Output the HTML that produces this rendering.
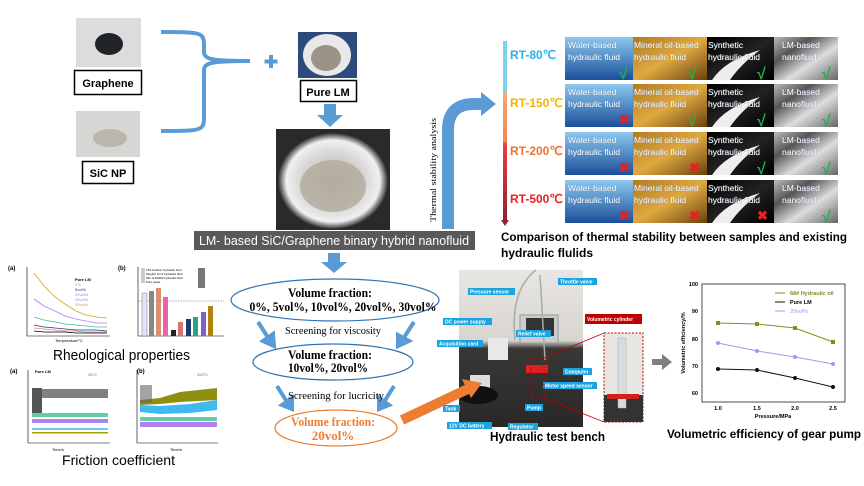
<!DOCTYPE html>
<html><head><meta charset="utf-8"><style>
html,body{margin:0;padding:0;background:#fff}
svg{display:block}
text{font-family:"Liberation Sans",sans-serif}
.t{font-family:"Liberation Serif",serif}
.lb{fill:#1aa3e0}
.lt{fill:#fff;font-size:5px;font-weight:bold}
</style></head><body>
<svg width="864" height="486" viewBox="0 0 864 486" xmlns="http://www.w3.org/2000/svg">
<defs>
<linearGradient id="bar" x1="0" y1="0" x2="0" y2="1">
<stop offset="0" stop-color="#7fd0ea"/><stop offset="0.28" stop-color="#7fd0ea"/>
<stop offset="0.29" stop-color="#f4a870"/><stop offset="0.56" stop-color="#f08850"/>
<stop offset="0.57" stop-color="#e84040"/><stop offset="1" stop-color="#902030"/></linearGradient>
<linearGradient id="water" x1="0" y1="0" x2="0" y2="1"><stop offset="0" stop-color="#8cc8f0"/><stop offset="1" stop-color="#1a4f9a"/></linearGradient>
<linearGradient id="oil" x1="0" y1="0" x2="1" y2="1"><stop offset="0" stop-color="#b07a20"/><stop offset="0.5" stop-color="#e0a840"/><stop offset="1" stop-color="#6a4210"/></linearGradient>
<linearGradient id="syn" x1="0" y1="0" x2="1" y2="1"><stop offset="0" stop-color="#000"/><stop offset="0.5" stop-color="#222"/><stop offset="1" stop-color="#000"/></linearGradient>
<linearGradient id="lm" x1="0" y1="0" x2="1" y2="1"><stop offset="0" stop-color="#bbb"/><stop offset="0.3" stop-color="#555"/><stop offset="0.6" stop-color="#ddd"/><stop offset="1" stop-color="#666"/></linearGradient>
<radialGradient id="beak" cx="0.5" cy="0.5" r="0.5"><stop offset="0" stop-color="#b8b0a0"/><stop offset="0.6" stop-color="#d8d8d8"/><stop offset="0.85" stop-color="#f0f0f0"/><stop offset="1" stop-color="#303030"/></radialGradient>
<linearGradient id="bench" x1="0" y1="0" x2="0" y2="1"><stop offset="0" stop-color="#e8e6e2"/><stop offset="0.45" stop-color="#d8d5d0"/><stop offset="0.5" stop-color="#3a3836"/><stop offset="1" stop-color="#2a2826"/></linearGradient>
</defs>

<rect x="76" y="18" width="65" height="49" fill="#dcdcdc"/>
<ellipse cx="109" cy="44" rx="14" ry="11" fill="#202428"/>
<rect x="74.5" y="70.5" width="67" height="24" fill="#fff" stroke="#000" stroke-width="1.5"/>
<text x="108" y="87" font-size="11" font-weight="bold" text-anchor="middle">Graphene</text>
<rect x="76" y="111" width="64" height="46" fill="#d6d6d4"/>
<ellipse cx="110" cy="138" rx="17" ry="9" fill="#bbb6ac"/>
<rect x="82.5" y="161.5" width="51" height="22" fill="#fff" stroke="#000" stroke-width="1.5"/>
<text x="108" y="177" font-size="11" font-weight="bold" text-anchor="middle">SiC NP</text>
<path d="M161 32 C200 32 204 32 204 45 L204 52 C204 60 215 61 250 61 M161 131 C200 131 204 131 204 118 L204 70 C204 62 215 61 250 61" fill="none" stroke="#5b9bd5" stroke-width="4"/>
<path d="M271 55 V68 M264.5 61.5 H277.5" stroke="#5b9bd5" stroke-width="4"/>
<rect x="298" y="32" width="59" height="46" fill="#2c4a7a"/>
<ellipse cx="327" cy="55" rx="24" ry="21" fill="#e8e8e8"/>
<ellipse cx="326" cy="58" rx="15" ry="13" fill="#9a9488"/>
<rect x="300.5" y="80.5" width="56" height="21" fill="#fff" stroke="#000" stroke-width="1.5"/>
<text x="328" y="96" font-size="11" font-weight="bold" text-anchor="middle">Pure LM</text>
<path d="M324 104 H336 V115 H343 L330 127 L317 115 H324 Z" fill="#5b9bd5"/>
<rect x="276" y="129" width="114" height="101" fill="#2a2a2a"/>
<ellipse cx="333" cy="181" rx="55" ry="48" fill="url(#beak)"/>
<ellipse cx="333" cy="186" rx="33" ry="26" fill="#b2aa9c" opacity="0.8"/>
<rect x="194" y="231" width="281" height="19" fill="#595959"/>
<text x="334" y="245" font-size="12.5" fill="#fff" text-anchor="middle" textLength="270" lengthAdjust="spacingAndGlyphs">LM- based SiC/Graphene binary hybrid nanofluid</text>
<path d="M448 229 V130 Q448 104 474 104 H482" fill="none" stroke="#5b9bd5" stroke-width="12"/>
<path d="M481 92 L496 104 L481 116 Z" fill="#5b9bd5"/>
<text class="t" x="0" y="0" font-size="8.5" transform="translate(436 222) rotate(-90)" textLength="104" lengthAdjust="spacingAndGlyphs">Thermal stability analysis</text>

<rect x="503" y="41" width="4" height="180" fill="url(#bar)"/>
<path d="M501 220 L509 220 L505 226 Z" fill="#902030"/>
<text x="510" y="59" font-size="12" font-weight="bold" fill="#2ab0e8">RT-80℃</text>
<text x="510" y="107" font-size="12" font-weight="bold" fill="#f5b400">RT-150℃</text>
<text x="510" y="155" font-size="12" font-weight="bold" fill="#f07030">RT-200℃</text>
<text x="510" y="203" font-size="12" font-weight="bold" fill="#e8202a">RT-500℃</text>
<g id="r1">
<rect x="565" y="37" width="68" height="43" fill="url(#water)"/>
<rect x="633" y="37" width="74" height="43" fill="url(#oil)"/>
<rect x="707" y="37" width="67" height="43" fill="url(#syn)"/>
<path d="M712 80 Q725 60 760 50 Q740 65 730 80 Z" fill="#eee"/>
<rect x="774" y="37" width="64" height="43" fill="url(#lm)"/>
</g>
<use href="#r1" y="47"/><use href="#r1" y="95"/><use href="#r1" y="143"/>
<g font-size="8.5" fill="#fff" style="paint-order:stroke" stroke="#6080a0" stroke-width="0.3">
<text x="568" y="48">Water-based</text><text x="568" y="60">hydraulic fluid</text>
<text x="634" y="48">Mineral oil-based</text><text x="634" y="60">hydraulic fluid</text>
<text x="708" y="48">Synthetic</text><text x="708" y="60">hydraulic fluid</text>
<text x="782" y="48">LM-based</text><text x="782" y="60">nanofluids</text>
<text x="568" y="95">Water-based</text><text x="568" y="107">hydraulic fluid</text>
<text x="634" y="95">Mineral oil-based</text><text x="634" y="107">hydraulic fluid</text>
<text x="708" y="95">Synthetic</text><text x="708" y="107">hydraulic fluid</text>
<text x="782" y="95">LM-based</text><text x="782" y="107">nanofluids</text>
<text x="568" y="143">Water-based</text><text x="568" y="155">hydraulic fluid</text>
<text x="634" y="143">Mineral oil-based</text><text x="634" y="155">hydraulic fluid</text>
<text x="708" y="143">Synthetic</text><text x="708" y="155">hydraulic fluid</text>
<text x="782" y="143">LM-based</text><text x="782" y="155">nanofluids</text>
<text x="568" y="191">Water-based</text><text x="568" y="203">hydraulic fluid</text>
<text x="634" y="191">Mineral oil-based</text><text x="634" y="203">hydraulic fluid</text>
<text x="708" y="191">Synthetic</text><text x="708" y="203">hydraulic fluid</text>
<text x="782" y="191">LM-based</text><text x="782" y="203">nanofluids</text>
</g>
<g font-size="16" font-weight="bold" fill="#22b04a">
<text x="619" y="79">√</text><text x="688" y="79">√</text><text x="757" y="79">√</text><text x="822" y="79">√</text>
<text x="688" y="126">√</text><text x="757" y="126">√</text><text x="822" y="126">√</text>
<text x="757" y="174">√</text><text x="822" y="174">√</text>
<text x="822" y="222">√</text>
</g>
<g font-size="13" font-weight="bold" fill="#ee1c24">
<text x="619" y="124">✖</text>
<text x="619" y="172">✖</text><text x="689" y="172">✖</text>
<text x="619" y="220">✖</text><text x="689" y="220">✖</text><text x="757" y="220">✖</text>
</g>
<text x="501" y="241" font-size="12" font-weight="bold" textLength="346" lengthAdjust="spacingAndGlyphs">Comparison of thermal stability between samples and existing</text>
<text x="501" y="257" font-size="12" font-weight="bold">hydraulic flulids</text>

<g class="t" font-size="4">
<text x="8" y="270" font-size="6" font-weight="bold">(a)</text>
<path d="M27 267 V336 H110" fill="none" stroke="#000" stroke-width="0.6"/>
<polyline points="34,273 44,286 55,297 65,304 76,311 86,315 96,317 107,318" fill="none" stroke="#d4a020" stroke-width="0.8"/>
<polyline points="34,299 44,306 55,311 65,316 76,319 86,321 96,323 107,323" fill="none" stroke="#b080f0" stroke-width="0.8"/>
<polyline points="34,317 44,320 55,322 65,324 76,325 86,326 96,327 107,327" fill="none" stroke="#40c0a0" stroke-width="0.8"/>
<polyline points="34,325 44,327 55,328 65,329 76,330 86,330 96,330 107,331" fill="none" stroke="#1a3a80" stroke-width="0.8"/>
<polyline points="34,328 44,329 55,330 65,331 76,331 86,332 96,332 107,332" fill="none" stroke="#f08080" stroke-width="0.8"/>
<polyline points="34,331 44,332 55,332 65,332 76,333 86,333 96,333 107,333" fill="none" stroke="#000" stroke-width="0.8"/>
<text x="75" y="281" font-weight="bold">Pure LM</text><text x="75" y="286" fill="#f08080">0%</text>
<text x="75" y="291" fill="#1a3a80">5vol%</text><text x="75" y="296" fill="#40c0a0">10vol%</text>
<text x="75" y="301" fill="#b080f0">20vol%</text><text x="75" y="306" fill="#d4a020">30vol%</text>
<text x="55" y="342">Temperature/°C</text>
<text x="118" y="270" font-size="6" font-weight="bold">(b)</text>
<path d="M138 267 V336 H224" fill="none" stroke="#000" stroke-width="0.6"/>
<line x1="138" y1="301" x2="224" y2="301" stroke="#666" stroke-width="0.5" stroke-dasharray="1.5,1"/>
<rect x="142" y="293" width="5" height="43" fill="#e8e0f8" stroke="#333" stroke-width="0.3"/>
<rect x="149" y="291" width="5" height="45" fill="#888"/>
<rect x="156" y="288" width="5" height="48" fill="#d89070"/>
<rect x="163" y="297" width="5" height="39" fill="#f060b0"/>
<rect x="171" y="330" width="5" height="6" fill="#222"/>
<rect x="178" y="322" width="5" height="14" fill="#e07070"/>
<rect x="186" y="319" width="5" height="17" fill="#1a3a70"/>
<rect x="193" y="317" width="5" height="19" fill="#30a080"/>
<rect x="201" y="312" width="5" height="24" fill="#8060d0"/>
<rect x="208" y="306" width="5" height="30" fill="#b08010"/>
<rect x="141" y="268" width="4" height="15" fill="#ccc"/>
<text x="146" y="271" font-size="3">150 Aviation hydraulic fluid</text>
<text x="146" y="275" font-size="3">Skydrol LD-4 hydraulic fluid</text>
<text x="146" y="279" font-size="3">MIL-H-83282 hydraulic fluid</text>
<text x="146" y="283" font-size="3">Pure water</text>
<rect x="198" y="268" width="7" height="20" fill="#777"/>
</g>
<text x="53" y="360" font-size="15" textLength="137" lengthAdjust="spacingAndGlyphs">Rheological properties</text>

<g class="t" font-size="4">
<text x="10" y="373" font-size="6" font-weight="bold">(a)</text>
<path d="M28 370 V443 H110" fill="none" stroke="#000" stroke-width="0.6"/>
<rect x="32" y="389" width="76" height="9" fill="#606060" opacity="0.8"/>
<rect x="32" y="388" width="10" height="25" fill="#555"/>
<rect x="32" y="413" width="76" height="4" fill="#60d0a0"/>
<rect x="32" y="419" width="76" height="4" fill="#b080f0"/>
<rect x="32" y="428" width="76" height="2" fill="#70c8f0"/>
<rect x="32" y="432" width="76" height="1.5" fill="#a0a000"/>
<text x="88" y="376" fill="#666">25°C</text>
<text x="35" y="373" font-weight="bold">Pure LM</text>
<text x="137" y="373" font-size="6" font-weight="bold">(b)</text>
<path d="M137 370 V443 H218" fill="none" stroke="#000" stroke-width="0.6"/>
<path d="M140 400 L160 398 L180 392 L217 388 L217 400 L180 402 L160 404 L140 405 Z" fill="#909010"/>
<path d="M140 405 L160 406 L190 404 L217 400 L217 410 L190 413 L160 414 L140 412 Z" fill="#40b8f0"/>
<rect x="140" y="417" width="77" height="4" fill="#60d0a0"/>
<rect x="140" y="422" width="77" height="5" fill="#b080f0"/>
<rect x="140" y="385" width="12" height="18" fill="#666" opacity="0.6"/>
<text x="197" y="376" fill="#666">200°C</text>
<text x="52" y="451">Time/s</text><text x="170" y="451">Time/s</text>
</g>
<text x="62" y="465" font-size="14" textLength="113" lengthAdjust="spacingAndGlyphs">Friction coefficient</text>

<path d="M328 253 H340 V262 H347 L334 273 L321 262 H328 Z" fill="#5b9bd5"/>
<ellipse cx="335" cy="300" rx="104" ry="21" fill="none" stroke="#2e75b6" stroke-width="1.2"/>
<text class="t" x="330" y="297" font-size="13" font-weight="bold" text-anchor="middle" textLength="84" lengthAdjust="spacingAndGlyphs">Volume fraction:</text>
<text class="t" x="343" y="311" font-size="13" font-weight="bold" text-anchor="middle" textLength="187" lengthAdjust="spacingAndGlyphs">0%, 5vol%, 10vol%, 20vol%, 30vol%</text>
<text class="t" x="333" y="334" font-size="10" text-anchor="middle" textLength="96" lengthAdjust="spacingAndGlyphs">Screening for viscosity</text>
<g stroke="#5b9bd5" stroke-width="4" fill="#5b9bd5">
<line x1="258" y1="322" x2="269" y2="339"/><path d="M263 341 L274 346 L273 334 Z"/>
<line x1="414" y1="322" x2="403" y2="339"/><path d="M398 335 L398 346 L409 341 Z"/>
<line x1="277" y1="386" x2="287" y2="402"/><path d="M282 405 L292 409 L292 398 Z"/>
<line x1="394" y1="386" x2="384" y2="402"/><path d="M379 398 L379 409 L389 405 Z"/>
</g>
<ellipse cx="333" cy="362" rx="80" ry="18" fill="none" stroke="#2e75b6" stroke-width="1.2"/>
<text class="t" x="288" y="359" font-size="13" font-weight="bold" textLength="84" lengthAdjust="spacingAndGlyphs">Volume fraction:</text>
<text class="t" x="288" y="372" font-size="13" font-weight="bold" textLength="80" lengthAdjust="spacingAndGlyphs">10vol%, 20vol%</text>
<text class="t" x="336" y="399" font-size="10" text-anchor="middle" textLength="96" lengthAdjust="spacingAndGlyphs">Screening for lucricity</text>
<ellipse cx="336" cy="428" rx="61" ry="18" fill="none" stroke="#ed7d31" stroke-width="1.2"/>
<text class="t" x="333" y="426" font-size="13" font-weight="bold" fill="#ed7d31" text-anchor="middle" textLength="84" lengthAdjust="spacingAndGlyphs">Volume fraction:</text>
<text class="t" x="333" y="440" font-size="13" font-weight="bold" fill="#ed7d31" text-anchor="middle">20vol%</text>
<rect x="459" y="270" width="124" height="157" fill="url(#bench)"/>
<rect x="488" y="338" width="20" height="22" fill="#e8e8e8"/>
<rect x="470" y="375" width="20" height="14" fill="#ddd"/>
<ellipse cx="478" cy="395" rx="20" ry="9" fill="#111"/>
<rect x="520" y="315" width="38" height="28" fill="#ccc" stroke="#999"/>
<rect x="526" y="318" width="28" height="18" fill="#333"/>
<rect x="526" y="365" width="22" height="8" fill="#e02020"/>
<path d="M536 270 Q510 290 515 340 M540 275 L545 360" stroke="#aaa" stroke-width="1.5" fill="none"/>
<path d="M402 420 L470 388" stroke="#ed7d31" stroke-width="10"/>
<path d="M462 379 L482 383 L471 398 Z" fill="#ed7d31"/>
<g>
<rect class="lb" x="468" y="288" width="47" height="7"/><text class="lt" x="470" y="293.5">Pressure sensor</text>
<rect class="lb" x="558" y="278" width="39" height="7"/><text class="lt" x="560" y="283.5">Throttle valve</text>
<rect class="lb" x="443" y="318" width="49" height="7"/><text class="lt" x="445" y="323.5">DC power supply</text>
<rect class="lb" x="516" y="330" width="35" height="7"/><text class="lt" x="518" y="335.5">Relief valve</text>
<rect class="lb" x="437" y="340" width="46" height="7"/><text class="lt" x="439" y="345.5">Acquisition card</text>
<rect class="lb" x="563" y="368" width="29" height="7"/><text class="lt" x="565" y="373.5">Computer</text>
<rect class="lb" x="543" y="382" width="54" height="7"/><text class="lt" x="545" y="387.5">Motor speed sensor</text>
<rect class="lb" x="443" y="405" width="17" height="7"/><text class="lt" x="445" y="410.5">Tank</text>
<rect class="lb" x="525" y="404" width="18" height="7"/><text class="lt" x="527" y="409.5">Pump</text>
<rect class="lb" x="447" y="422" width="45" height="7"/><text class="lt" x="449" y="427.5">12V DC battery</text>
<rect class="lb" x="508" y="423" width="30" height="7"/><text class="lt" x="510" y="428.5">Regulator</text>
<rect x="585" y="314" width="57" height="10" fill="#c00000"/><text class="lt" x="587" y="321">Volumetric cylinder</text>
</g>
<rect x="604" y="333" width="39" height="89" fill="#e8e6e2" stroke="#c00000" stroke-dasharray="2,1.5"/>
<rect x="604" y="395" width="39" height="27" fill="#333"/>
<rect x="618" y="338" width="8" height="70" fill="#d8dde0" stroke="#aaa" stroke-width="0.5"/>
<rect x="607" y="394" width="32" height="5" fill="#d02020"/>
<rect x="531" y="358" width="13" height="40" fill="none" stroke="#c00000" stroke-dasharray="2,1.5"/>
<path d="M544 358 L604 333 M544 398 L604 422" stroke="#c00000" stroke-width="0.7"/>
<text x="490" y="441" font-size="12.5" font-weight="bold" textLength="115" lengthAdjust="spacingAndGlyphs">Hydraulic test bench</text>
<path d="M652 359 H662 V354 L672 362 L662 370 V365 H652 Z" fill="#7f7f7f"/>
<g class="t" font-size="5.5" font-weight="bold">
<rect x="702" y="284" width="143" height="118" fill="none" stroke="#000" stroke-width="0.7"/>
<text x="698" y="286" text-anchor="end">100</text><text x="698" y="313" text-anchor="end">90</text>
<text x="698" y="341" text-anchor="end">80</text><text x="698" y="368" text-anchor="end">70</text>
<text x="698" y="395" text-anchor="end">60</text>
<text x="718" y="410" text-anchor="middle">1.0</text><text x="757" y="410" text-anchor="middle">1.5</text>
<text x="795" y="410" text-anchor="middle">2.0</text><text x="833" y="410" text-anchor="middle">2.5</text>
<text x="773" y="418" text-anchor="middle">Pressure/MPa</text>
<text x="0" y="0" text-anchor="middle" transform="translate(685 343) rotate(-90)">Volumetric efficiency/%</text>
<polyline points="718,323 757,324 795,328 833,342" fill="none" stroke="#8a8a20" stroke-width="1"/>
<polyline points="718,343 757,351 795,357 833,364" fill="none" stroke="#b090f0" stroke-width="1"/>
<polyline points="718,369 757,370 795,378 833,387" fill="none" stroke="#111" stroke-width="1"/>
<g fill="#8a8a20"><rect x="716" y="321" width="4" height="4"/><rect x="755" y="322" width="4" height="4"/><rect x="793" y="326" width="4" height="4"/><rect x="831" y="340" width="4" height="4"/></g>
<g fill="#b090f0"><circle cx="718" cy="343" r="2"/><circle cx="757" cy="351" r="2"/><circle cx="795" cy="357" r="2"/><circle cx="833" cy="364" r="2"/></g>
<g fill="#111"><circle cx="718" cy="369" r="2"/><circle cx="757" cy="370" r="2"/><circle cx="795" cy="378" r="2"/><circle cx="833" cy="387" r="2"/></g>
<line x1="775" y1="293" x2="785" y2="293" stroke="#8a8a20"/><text x="790" y="295" fill="#8a8a20">68# Hydraulic oil</text>
<line x1="775" y1="302" x2="785" y2="302" stroke="#111"/><text x="790" y="304">Pure LM</text>
<line x1="775" y1="311" x2="785" y2="311" stroke="#b090f0"/><text x="790" y="313" fill="#b090f0" font-weight="normal">20vol%</text>
</g>
<text x="667" y="438" font-size="12" font-weight="bold" textLength="194" lengthAdjust="spacingAndGlyphs">Volumetric efficiency of gear pump</text>
</svg>
</body></html>
